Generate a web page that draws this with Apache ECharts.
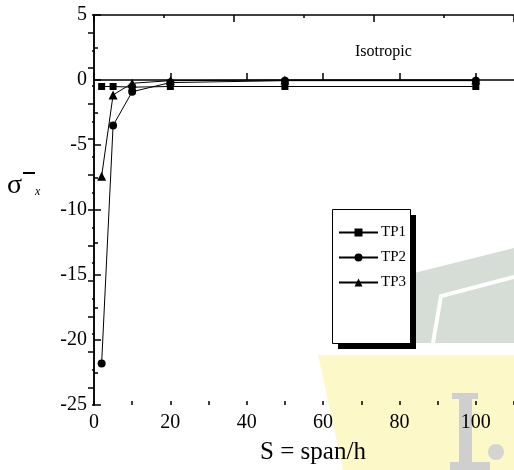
<!DOCTYPE html>
<html>
<head>
<meta charset="utf-8">
<script src="https://cdn.jsdelivr.net/npm/echarts@6/dist/echarts.min.js"></script>
<style>html,body{margin:0;padding:0;background:#fff}#c{width:514px;height:470px}</style>
</head>
<body>
<div id="c"></div>
<script>
var spanRatio = [2, 5, 10, 20, 50, 100];
var tp1 = [-0.5, -0.5, -0.55, -0.5, -0.5, -0.5];
var tp2 = [-21.8, -3.5, -0.9, -0.2, -0.05, -0.05];
var tp3 = [-7.4, -1.15, -0.25, -0.05, 0, 0];
var seriesNames = ['TP1', 'TP2', 'TP3'];
var xTickLabels = [0, 20, 40, 60, 80, 100];
var yTickLabels = [5, 0, -5, -10, -15, -20, -25];

var FONT = 'Liberation Serif';
function pairs(ys) { return spanRatio.map(function (x, i) { return [x, ys[i]]; }); }
var lineSt = { color: '#000', width: 1.5 };

var chart = echarts.init(document.getElementById('c'), null, { renderer: 'canvas' });
function mk(name, data, sym, size) {
  return {
    name: name, type: 'line', data: pairs(data), symbol: sym, symbolSize: size,
    xAxisIndex: 0, yAxisIndex: 0,
    lineStyle: { color: '#000', width: 1 }, itemStyle: { color: '#000' },
    animation: false, z: 5
  };
}
chart.setOption({
  animation: false,
  backgroundColor: '#fff',
  grid: { left: 94, right: -1, top: 15, bottom: 64, containLabel: false },
  legend: {
    data: seriesNames, orient: 'vertical', left: 332, top: 209,
    padding: [16, 4, 48, 6], itemGap: 10, itemWidth: 39, itemHeight: 10,
    backgroundColor: 'transparent', borderWidth: 0,
    textStyle: { fontFamily: FONT, fontSize: 15, color: '#000', padding: [0, 0, 0, -2] },
    z: 12
  },
  xAxis: [
    {
      type: 'value', position: 'bottom', min: 0, max: 110, interval: 20,
      axisLine: { show: true, lineStyle: lineSt },
      axisTick: { show: true, inside: true, length: 7, lineStyle: lineSt },
      axisLabel: { show: true, fontFamily: FONT, fontSize: 20, color: '#000', margin: 8,
        showMaxLabel: false,
        formatter: function (v) { return xTickLabels.indexOf(v) >= 0 ? String(v) : ''; } },
      splitLine: { show: false },
      name: 'S = span/h', nameLocation: 'middle', nameGap: 35,
      nameTextStyle: { fontFamily: FONT, fontSize: 25, color: '#000', padding: [0, 0, 0, 18] }
    },
    {
      type: 'value', position: 'bottom', min: 0, max: 110, interval: 10,
      axisLine: { show: false },
      axisTick: { show: true, inside: true, length: 4, lineStyle: lineSt },
      axisLabel: { show: false }, splitLine: { show: false }
    },
    {
      type: 'value', position: 'top', min: 0, max: 6, interval: 2,
      axisLine: { show: true, lineStyle: lineSt },
      axisTick: { show: true, inside: true, length: 7, lineStyle: lineSt },
      minorTick: { show: true, splitNumber: 2, length: 3, lineStyle: lineSt },
      axisLabel: { show: false }, splitLine: { show: false }
    }
  ],
  yAxis: [
    {
      type: 'value', position: 'left', min: -25, max: 5, interval: 5,
      axisLine: { show: true, lineStyle: lineSt },
      axisTick: { show: true, inside: true, length: 7, lineStyle: lineSt },
      minorTick: { show: true, splitNumber: 2, length: 4, lineStyle: lineSt },
      axisLabel: { show: true, fontFamily: FONT, fontSize: 20, color: '#000', margin: 7,
        formatter: function (v) { return yTickLabels.indexOf(v) >= 0 ? String(v) : ''; } },
      splitLine: { show: false }
    },
    {
      type: 'value', position: 'right', min: 0, max: 22, interval: 2,
      axisLine: { show: true, lineStyle: lineSt },
      axisTick: { show: true, inside: true, length: 2, lineStyle: lineSt },
      minorTick: { show: true, splitNumber: 2, length: 6, lineStyle: lineSt },
      axisLabel: { show: false }, splitLine: { show: false }
    }
  ],
  graphic: [
    { type: 'polygon', silent: true, z: -10,
      shape: { points: [[410, 274], [514, 248], [514, 343], [410, 343]] },
      style: { fill: '#d6ddd6' } },
    { type: 'polyline', silent: true, z: -9,
      shape: { points: [[433, 343], [441, 296], [514, 277]] },
      style: { stroke: '#fff', lineWidth: 4, fill: null } },
    { type: 'polygon', silent: true, z: -10,
      shape: { points: [[318, 355], [514, 355], [514, 470], [343, 470]] },
      style: { fill: '#fdf8c8' } },
    { type: 'rect', silent: true, z: -8, shape: { x: 452, y: 393, width: 26, height: 6 }, style: { fill: '#cfcfcf' } },
    { type: 'rect', silent: true, z: -8, shape: { x: 459, y: 393, width: 13, height: 75 }, style: { fill: '#cfcfcf' } },
    { type: 'rect', silent: true, z: -8, shape: { x: 450, y: 462, width: 40, height: 8 }, style: { fill: '#cfcfcf' } },
    { type: 'circle', silent: true, z: -8, shape: { cx: 496, cy: 452, r: 8 }, style: { fill: '#d4d4d4' } },
    { type: 'rect', silent: true, z: 8, shape: { x: 338, y: 215, width: 78, height: 134 }, style: { fill: '#000' } },
    { type: 'rect', silent: true, z: 9, shape: { x: 332.5, y: 209.5, width: 78, height: 134 },
      style: { fill: '#fff', stroke: '#000', lineWidth: 1 } },
    { type: 'text', left: 355, top: 44, z: 10,
      style: { text: 'Isotropic', fontFamily: FONT, fontSize: 16, fill: '#000' } },
    { type: 'text', left: 7, top: 172, z: 10,
      style: { text: 'σ', fontFamily: FONT, fontSize: 28, fill: '#000' } },
    { type: 'line', z: 10, shape: { x1: 23, y1: 173, x2: 35, y2: 173 },
      style: { stroke: '#000', lineWidth: 2 } },
    { type: 'text', left: 35, top: 186, z: 10,
      style: { text: 'x', fontFamily: FONT, fontStyle: 'italic', fontSize: 12, fill: '#000' } }
  ],
  series: [
    mk(seriesNames[0], tp1, 'rect', 7),
    mk(seriesNames[1], tp2, 'circle', 8),
    mk(seriesNames[2], tp3, 'triangle', 9)
  ]
});
</script>
</body>
</html>
